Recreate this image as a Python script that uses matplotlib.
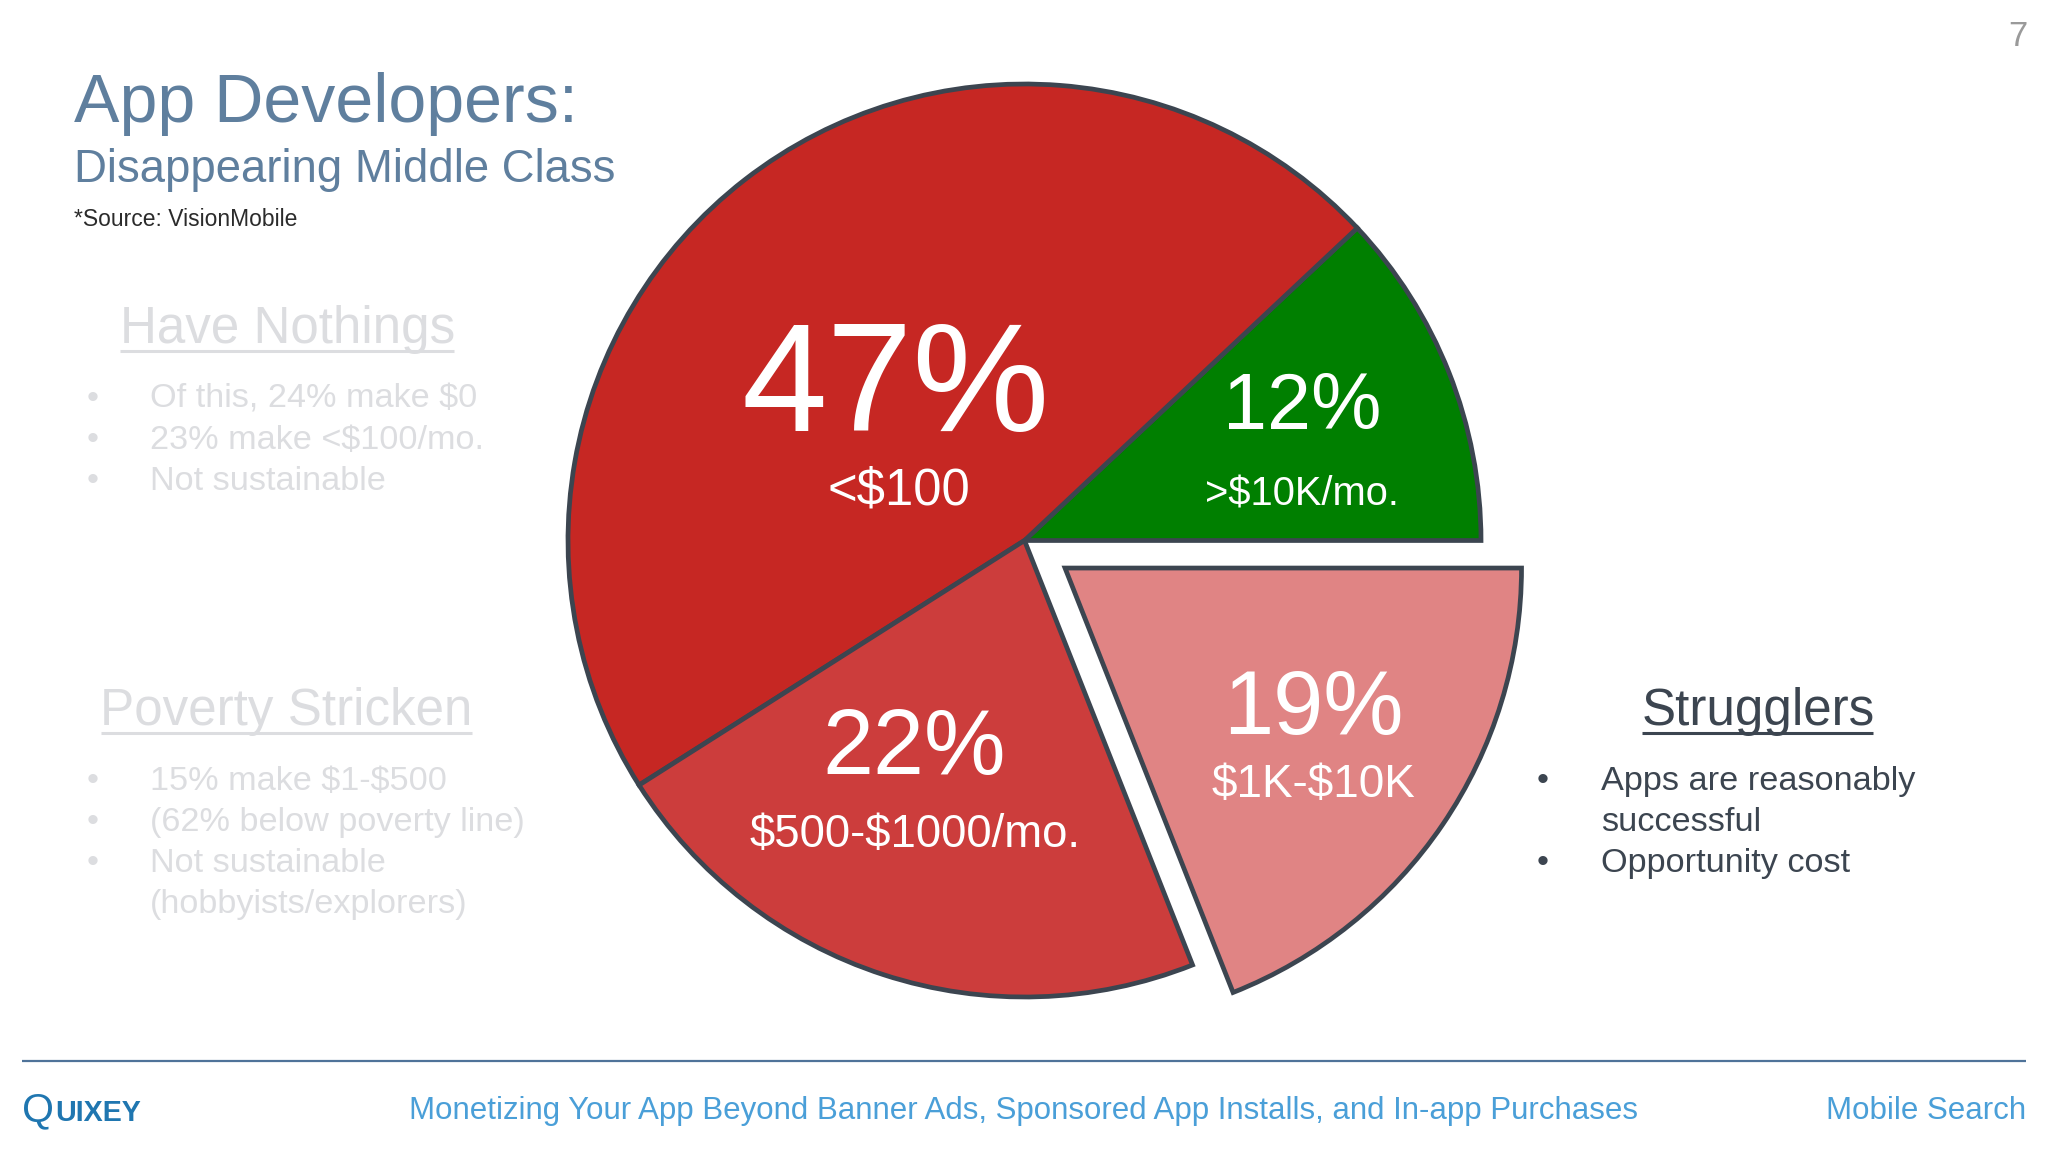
import matplotlib
matplotlib.use("Agg")
import matplotlib.pyplot as plt

plt.rcParams['font.family'] = ['Liberation Sans', 'DejaVu Sans']

# Data
shares = [12, 47, 22, 19]
share_labels = ['12%', '47%', '22%', '19%']
band_labels = ['>$10K/mo.', '<$100', '$500-$1000/mo.', '$1K-$10K']
slice_colors = ['#007f00', '#c62723', '#cc3d3c', '#e08484']
explode_px = [0, 0, 0, 49]
title = 'App Developers:'
subtitle = 'Disappearing Middle Class'
source = '*Source: VisionMobile'
have_head = 'Have Nothings'
have_items = ['Of this, 24% make $0', '23% make <$100/mo.', 'Not sustainable']
poverty_head = 'Poverty Stricken'
poverty_items = ['15% make $1-$500', '(62% below poverty line)', 'Not sustainable']
poverty_extra = '(hobbyists/explorers)'
strug_head = 'Strugglers'
strug_lines = ['Apps are reasonably', 'successful', 'Opportunity cost']
footer_mid = 'Monetizing Your App Beyond Banner Ads, Sponsored App Installs, and In-app Purchases'
footer_right = 'Mobile Search'

W, H = 2048, 1152
fig = plt.figure(figsize=(W / 100, H / 100), dpi=100, facecolor='white')
ax = fig.add_axes([0, 0, 1, 1])
EDGE = '#3c4550'
wedges, _ = ax.pie(shares, colors=slice_colors, startangle=0, counterclock=True,
                   explode=explode_px, radius=456.5, center=(1024.5, H - 540.5), frame=True,
                   wedgeprops=dict(edgecolor=EDGE, linewidth=3.4, joinstyle='miter'))
ax.set_xlim(0, W)
ax.set_ylim(0, H)
ax.set_aspect('auto')
ax.axis('off')


def T(x, y, s, size, color, ha='left', **kw):
    return ax.text(x, H - y, s, fontsize=size, color=color, ha=ha, va='baseline',
                   parse_math=False, **kw)


def U(x0, x1, y, color, lw=1.8):
    ax.plot([x0, x1], [H - y, H - y], color=color, lw=lw, solid_capstyle='butt')


BLUE = '#5f7f9e'
FADE = '#dcdde0'
DARK = '#3c4550'
T(74.5, 122.5, title, 49.1, BLUE)
T(74.5, 182, subtitle, 32.8, BLUE)
T(74.5, 226.5, source, 16.5, '#2b2b2b')

T(120, 343.5, have_head, 36.8, FADE)
U(120, 454, 350.5, FADE, lw=2.2)
for y, s in zip([408, 449, 490], have_items):
    T(87, y, '•', 24.7, FADE)
    T(150, y, s, 24.7, FADE)

T(100.5, 725, poverty_head, 36.8, FADE)
U(100.5, 472, 732.5, FADE, lw=2.2)
for y, s in zip([790, 831, 872], poverty_items):
    T(87, y, '•', 24.7, FADE)
    T(150, y, s, 24.7, FADE)
T(150, 913, poverty_extra, 24.7, FADE)

T(1642, 725, strug_head, 36.8, DARK)
U(1642, 1873, 733, DARK, lw=2.2)
T(1537, 790, '•', 24.7, DARK)
T(1601, 790, strug_lines[0], 24.7, DARK)
T(1601, 831, strug_lines[1], 24.7, DARK)
T(1537, 872, '•', 24.7, DARK)
T(1601, 872, strug_lines[2], 24.7, DARK)

pct_pos = [(1302, 429, 57), (896, 431, 111), (914, 774, 66), (1313, 734, 65)]
band_pos = [(1302, 505, 28.7), (899, 505, 36.6), (915, 847, 32.8), (1313, 797, 33)]
for (x, y, fs), s in zip(pct_pos, share_labels):
    T(x, y, s, fs, 'white', ha='center')
for (x, y, fs), s in zip(band_pos, band_labels):
    T(x, y, s, fs, 'white', ha='center')

T(2028, 46, '7', 25, '#9a9a9a', ha='right')
U(22, 2026, 1061, '#4f7399', lw=1.6)
LOGO = '#1f76b0'
T(22, 1121, 'Q', 29.5, LOGO)
T(55, 1121, 'UIXEY', 20.6, LOGO, fontweight='bold')
FOOT = '#4a9fd8'
T(409, 1119, footer_mid, 22.5, FOOT)
T(2026, 1119, footer_right, 22.5, FOOT, ha='right')

fig.savefig('out.png', dpi=100, facecolor='white')
